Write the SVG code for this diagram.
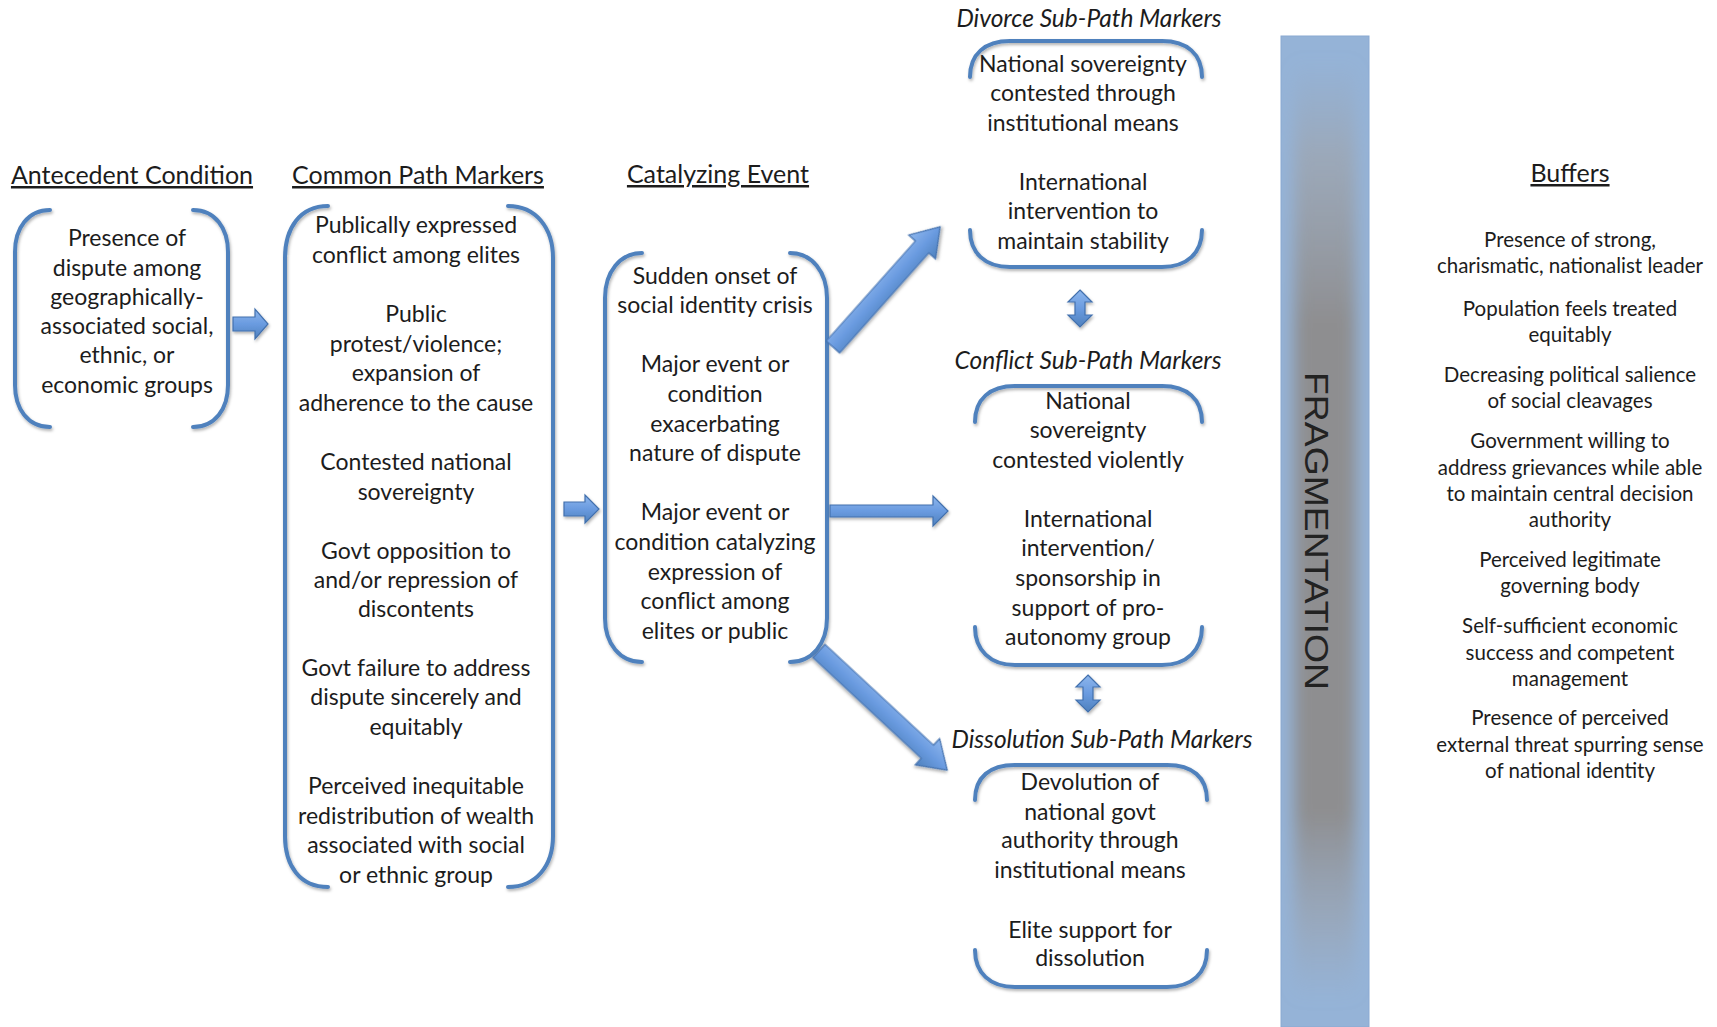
<svg xmlns="http://www.w3.org/2000/svg" width="1717" height="1027" viewBox="0 0 1717 1027">
  <style>
    text { font-family: Lato, "Open Sans", "Liberation Sans", sans-serif; fill: #1c1c1c; text-anchor: middle; }
    .h { font-size: 25px; text-decoration: underline; }
    .i { font-size: 24.5px; font-style: italic; }
    .t { font-size: 23px; }
    .b { font-size: 20.5px; }
    .brk { fill: none; stroke: #4f81bd; stroke-width: 4; stroke-linecap: round; filter: url(#sh); }
    .arr { fill: url(#ag); stroke: #4270ad; stroke-width: 1.2; filter: url(#sh); }
  </style>
  <defs>
    <filter id="sh" x="-20%" y="-20%" width="140%" height="140%">
      <feDropShadow dx="1" dy="2" stdDeviation="1.5" flood-color="#000" flood-opacity="0.3"/>
    </filter>
    <linearGradient id="ag" x1="0" y1="0" x2="0" y2="1">
      <stop offset="0" stop-color="#8db6ec"/>
      <stop offset="0.5" stop-color="#6a9be0"/>
      <stop offset="1" stop-color="#4f81bd"/>
    </linearGradient>
    <!-- vertical fade of the grey core inside the bar -->
    <linearGradient id="core" x1="0" y1="0" x2="0" y2="1">
      <stop offset="0" stop-color="#9aa4b2" stop-opacity="0"/>
      <stop offset="0.1" stop-color="#9ea4ad" stop-opacity="0.7"/>
      <stop offset="0.28" stop-color="#8e8e90" stop-opacity="1"/>
      <stop offset="0.8" stop-color="#8e8e90" stop-opacity="1"/>
      <stop offset="0.92" stop-color="#9aa2ae" stop-opacity="0.6"/>
      <stop offset="1" stop-color="#9aa4b2" stop-opacity="0"/>
    </linearGradient>
    <filter id="blur1" x="-50%" y="-20%" width="200%" height="140%"><feGaussianBlur stdDeviation="8"/></filter>
    <clipPath id="barclip"><rect x="1281" y="36" width="88" height="991"/></clipPath>
  </defs>

  <!-- column headers -->
  <g id="headers">
    <text class="h" x="132" y="184">Antecedent Condition</text>
    <text class="h" x="418" y="184">Common Path Markers</text>
    <text class="h" x="718" y="183">Catalyzing Event</text>
    <text class="h" x="1570" y="182">Buffers</text>
  </g>

  <!-- antecedent condition -->
  <g id="antecedent">
    <path class="brk" d="M50,210 C28,210 15,228 15,252 L15,385 C15,409 28,427 50,427"/>
    <path class="brk" d="M193,210 C215,210 228,228 228,252 L228,385 C228,409 215,427 193,427"/>
    <text class="t" x="127" y="246">Presence of</text>
    <text class="t" x="127" y="276">dispute  among</text>
    <text class="t" x="127" y="305">geographically-</text>
    <text class="t" x="127" y="334">associated social,</text>
    <text class="t" x="127" y="363">ethnic, or</text>
    <text class="t" x="127" y="393">economic groups</text>
  </g>

  <!-- common path markers -->
  <g id="common">
    <path class="brk" d="M328,206 C300,206 285,228 285,258 L285,836 C285,866 300,887 328,887"/>
    <path class="brk" d="M508,206 C536,206 553,228 553,258 L553,836 C553,866 536,887 508,887"/>
    <text class="t" x="416" y="233">Publically expressed</text>
    <text class="t" x="416" y="263">conflict among elites</text>
    <text class="t" x="416" y="322">Public</text>
    <text class="t" x="416" y="352">protest/violence;</text>
    <text class="t" x="416" y="381">expansion of</text>
    <text class="t" x="416" y="411">adherence to the cause</text>
    <text class="t" x="416" y="470">Contested national</text>
    <text class="t" x="416" y="500">sovereignty</text>
    <text class="t" x="416" y="559">Govt opposition to</text>
    <text class="t" x="416" y="588">and/or repression of</text>
    <text class="t" x="416" y="617">discontents</text>
    <text class="t" x="416" y="676">Govt failure to address</text>
    <text class="t" x="416" y="705">dispute sincerely and</text>
    <text class="t" x="416" y="735">equitably</text>
    <text class="t" x="416" y="794">Perceived inequitable</text>
    <text class="t" x="416" y="824">redistribution of wealth</text>
    <text class="t" x="416" y="853">associated with social</text>
    <text class="t" x="416" y="883">or ethnic group</text>
  </g>

  <!-- catalyzing event -->
  <g id="catalyzing">
    <path class="brk" d="M642,253 C620,253 605,272 605,298 L605,618 C605,644 620,662 642,662"/>
    <path class="brk" d="M790,253 C812,253 827,272 827,298 L827,618 C827,644 812,662 790,662"/>
    <text class="t" x="715" y="284">Sudden onset of</text>
    <text class="t" x="715" y="313">social identity crisis</text>
    <text class="t" x="715" y="372">Major event or</text>
    <text class="t" x="715" y="402">condition</text>
    <text class="t" x="715" y="432">exacerbating</text>
    <text class="t" x="715" y="461">nature of dispute</text>
    <text class="t" x="715" y="520">Major event or</text>
    <text class="t" x="715" y="550">condition catalyzing</text>
    <text class="t" x="715" y="580">expression of</text>
    <text class="t" x="715" y="609">conflict among</text>
    <text class="t" x="715" y="639">elites or public</text>
  </g>

  <!-- divorce sub-path -->
  <g id="divorce">
    <text class="i" x="1089" y="27">Divorce Sub-Path Markers</text>
    <path class="brk" d="M970,77 C970,54 985,41 1010,41 L1162,41 C1187,41 1202,54 1202,77"/>
    <path class="brk" d="M970,230 C970,253 985,267 1010,267 L1162,267 C1187,267 1202,253 1202,230"/>
    <text class="t" x="1083" y="72">National sovereignty</text>
    <text class="t" x="1083" y="101">contested through</text>
    <text class="t" x="1083" y="131">institutional means</text>
    <text class="t" x="1083" y="190">International</text>
    <text class="t" x="1083" y="219">intervention to</text>
    <text class="t" x="1083" y="249">maintain stability</text>
  </g>

  <!-- conflict sub-path -->
  <g id="conflict">
    <text class="i" x="1088" y="369">Conflict Sub-Path Markers</text>
    <path class="brk" d="M975,422 C975,399 990,386 1015,386 L1162,386 C1187,386 1202,399 1202,422"/>
    <path class="brk" d="M975,627 C975,650 990,665 1015,665 L1162,665 C1187,665 1202,650 1202,627"/>
    <text class="t" x="1088" y="409">National</text>
    <text class="t" x="1088" y="438">sovereignty</text>
    <text class="t" x="1088" y="468">contested violently</text>
    <text class="t" x="1088" y="527">International</text>
    <text class="t" x="1088" y="556">intervention/</text>
    <text class="t" x="1088" y="586">sponsorship in</text>
    <text class="t" x="1088" y="616">support of pro-</text>
    <text class="t" x="1088" y="645">autonomy group</text>
  </g>

  <!-- dissolution sub-path -->
  <g id="dissolution">
    <text class="i" x="1102" y="748">Dissolution Sub-Path Markers</text>
    <path class="brk" d="M975,800 C975,777 990,765 1015,765 L1167,765 C1192,765 1207,777 1207,800"/>
    <path class="brk" d="M975,950 C975,973 990,987 1015,987 L1167,987 C1192,987 1207,973 1207,950"/>
    <text class="t" x="1090" y="790">Devolution of</text>
    <text class="t" x="1090" y="820">national govt</text>
    <text class="t" x="1090" y="848">authority through</text>
    <text class="t" x="1090" y="878">institutional means</text>
    <text class="t" x="1090" y="938">Elite support for</text>
    <text class="t" x="1090" y="966">dissolution</text>
  </g>

  <!-- fragmentation bar -->
  <g id="fragmentation">
    <rect x="1281" y="36" width="88" height="991" fill="#95b3d7" stroke="#8aa9d2" stroke-width="1"/>
    <g clip-path="url(#barclip)">
      <rect x="1294" y="60" width="62" height="940" fill="url(#core)" filter="url(#blur1)"/>
    </g>
    <text x="1314" y="531" transform="rotate(90 1314 531)" style="font-family:'Liberation Sans',Arial,sans-serif;font-size:33px;fill:#222" textLength="318" lengthAdjust="spacingAndGlyphs" dominant-baseline="middle">FRAGMENTATION</text>
  </g>

  <!-- buffers -->
  <g id="buffers">
    <text class="b" x="1570" y="247">Presence of strong,</text>
    <text class="b" x="1570" y="273">charismatic, nationalist leader</text>
    <text class="b" x="1570" y="316">Population feels treated</text>
    <text class="b" x="1570" y="342">equitably</text>
    <text class="b" x="1570" y="382">Decreasing political salience</text>
    <text class="b" x="1570" y="408">of social cleavages</text>
    <text class="b" x="1570" y="448">Government willing to</text>
    <text class="b" x="1570" y="475">address grievances while able</text>
    <text class="b" x="1570" y="501">to maintain central decision</text>
    <text class="b" x="1570" y="527">authority</text>
    <text class="b" x="1570" y="567">Perceived legitimate</text>
    <text class="b" x="1570" y="593">governing body</text>
    <text class="b" x="1570" y="633">Self-sufficient economic</text>
    <text class="b" x="1570" y="660">success and competent</text>
    <text class="b" x="1570" y="686">management</text>
    <text class="b" x="1570" y="725">Presence of perceived</text>
    <text class="b" x="1570" y="752">external threat spurring sense</text>
    <text class="b" x="1570" y="778">of national identity</text>
  </g>

  <!-- connectors -->
  <g id="connectors">
    <polygon class="arr" points="233,317 255,317 255,309 268,324 255,339 255,331 233,331"/>
    <polygon class="arr" points="564,502 585,502 585,495 599,509 585,523 585,516 564,516"/>
    <polygon class="arr" points="0,-9 134,-9 134,-18 161,0 134,18 134,9 0,9" transform="translate(833,347) rotate(-48.3)"/>
    <polygon class="arr" points="830,505 933,505 933,496 948,511 933,526 933,517 830,517"/>
    <polygon class="arr" points="0,-9 148,-9 148,-18 175,0 148,18 148,9 0,9" transform="translate(819,651) rotate(42.9)"/>
    <polygon class="arr" points="1080,290 1092,302 1085,302 1085,315 1092,315 1080,327 1068,315 1075,315 1075,302 1068,302"/>
    <polygon class="arr" points="1088,675 1100,687 1093,687 1093,700 1100,700 1088,712 1076,700 1083,700 1083,687 1076,687"/>
  </g>
</svg>
